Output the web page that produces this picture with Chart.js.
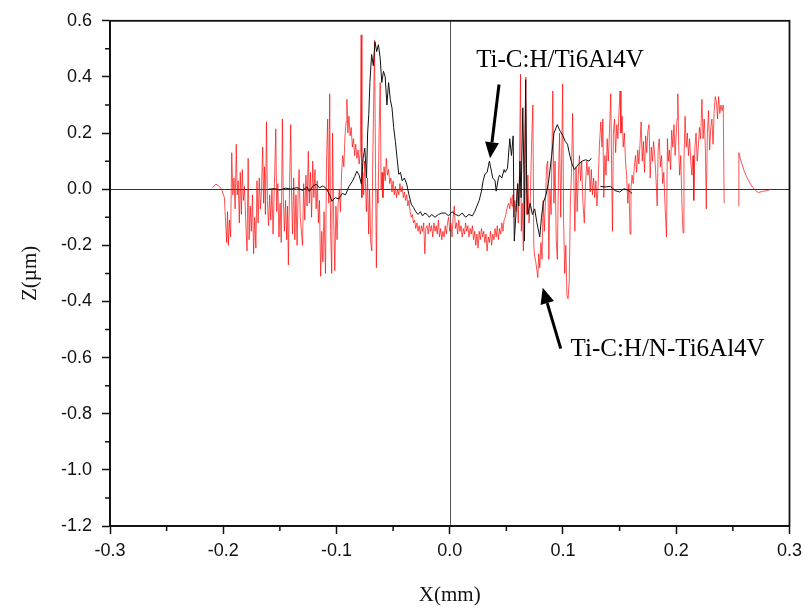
<!DOCTYPE html>
<html>
<head>
<meta charset="utf-8">
<script src="https://cdn.jsdelivr.net/npm/chart.js@4.4.1/dist/chart.umd.min.js"></script>
<style>
  html, body { margin: 0; padding: 0; background: #fff; }
  #wrap { width: 808px; height: 609px; position: relative; }
</style>
</head>
<body>
<div id="wrap"><canvas id="c" width="808" height="609"></canvas></div>
<script>
// ---- Data (X in mm, Z in µm) ----
const xTickValues = [-0.3, -0.2, -0.1, 0.0, 0.1, 0.2, 0.3];
const yTickValues = [-1.2, -1.0, -0.8, -0.6, -0.4, -0.2, 0.0, 0.2, 0.4, 0.6];
const xTitle = 'X(mm)';
const yTitle = 'Z(µm)';
const blackLabel = 'Ti-C:H/Ti6Al4V';
const redLabel = 'Ti-C:H/N-Ti6Al4V';

// Ti-C:H/Ti6Al4V (black)
const blackProfile = [
  [-0.160, 0.000], [-0.155, 0.002], [-0.150, -0.003], [-0.145, 0.004], [-0.140, 0.000],
  [-0.135, 0.006], [-0.130, -0.004], [-0.126, 0.008], [-0.124, -0.008], [-0.121, 0.010],
  [-0.118, 0.018], [-0.115, 0.005], [-0.112, 0.012], [-0.109, 0.002], [-0.106, -0.020],
  [-0.104, -0.043], [-0.101, -0.030], [-0.098, -0.035], [-0.095, -0.015], [-0.092, -0.020],
  [-0.089, 0.010], [-0.086, 0.028], [-0.084, 0.045], [-0.082, 0.064], [-0.080, 0.050],
  [-0.078, 0.018], [-0.0765, 0.110], [-0.075, 0.146], [-0.0735, 0.040], [-0.0725, 0.200],
  [-0.0715, 0.266], [-0.0705, 0.380], [-0.069, 0.480], [-0.0675, 0.440], [-0.066, 0.525],
  [-0.0645, 0.490], [-0.063, 0.515], [-0.0615, 0.470], [-0.060, 0.380], [-0.0585, 0.420],
  [-0.057, 0.400], [-0.0555, 0.300], [-0.054, 0.380], [-0.0525, 0.320], [-0.051, 0.290],
  [-0.0495, 0.220], [-0.048, 0.170], [-0.0465, 0.110], [-0.045, 0.053], [-0.0435, 0.060],
  [-0.042, 0.030], [-0.040, 0.040], [-0.038, 0.018], [-0.036, -0.020], [-0.034, -0.053],
  [-0.032, -0.065], [-0.030, -0.080], [-0.028, -0.090], [-0.026, -0.080], [-0.024, -0.095],
  [-0.022, -0.085], [-0.020, -0.090], [-0.018, -0.100], [-0.016, -0.090], [-0.013, -0.100],
  [-0.010, -0.090], [-0.007, -0.085], [-0.004, -0.085], [-0.001, -0.095], [0.002, -0.080],
  [0.005, -0.090], [0.008, -0.095], [0.011, -0.085], [0.014, -0.100], [0.017, -0.090],
  [0.020, -0.095], [0.022, -0.080], [0.024, -0.060], [0.026, -0.040], [0.028, -0.007],
  [0.0295, 0.030], [0.031, 0.053], [0.033, 0.060], [0.035, 0.100], [0.036, 0.080],
  [0.038, 0.040], [0.040, 0.030], [0.041, -0.007], [0.043, 0.040], [0.044, 0.050],
  [0.046, 0.040], [0.048, 0.070], [0.049, 0.060], [0.051, 0.075], [0.053, 0.180],
  [0.0545, 0.120], [0.056, 0.190], [0.057, -0.185], [0.059, -0.050], [0.060, 0.020],
  [0.061, -0.060], [0.062, 0.100], [0.063, -0.030], [0.0645, 0.290], [0.0655, 0.050],
  [0.066, -0.185], [0.067, 0.390], [0.068, 0.000], [0.069, -0.090], [0.071, -0.050],
  [0.073, -0.090], [0.075, -0.070], [0.077, -0.120], [0.0795, -0.170], [0.081, -0.100],
  [0.0825, -0.050], [0.085, -0.020], [0.087, 0.020], [0.088, 0.050], [0.090, 0.120],
  [0.092, 0.200], [0.094, 0.220], [0.095, 0.230], [0.097, 0.210], [0.100, 0.190],
  [0.102, 0.170], [0.104, 0.160], [0.106, 0.120], [0.108, 0.090], [0.110, 0.070],
  [0.112, 0.080], [0.114, 0.090], [0.117, 0.100], [0.120, 0.105], [0.123, 0.100],
  [0.125, 0.110], [0.129, null],
  [0.133, 0.010], [0.137, 0.008], [0.142, 0.010], [0.146, -0.005], [0.150, -0.010],
  [0.154, 0.002], [0.158, -0.005], [0.161, -0.015]
];

// Ti-C:H/N-Ti6Al4V (red)
const redProfile = [
  [-0.2095, 0.005], [-0.2065, 0.018], [-0.2040, 0.012], [-0.2015, 0.000], [-0.1990, -0.030],
  [-0.1970, -0.190], [-0.1962, -0.080], [-0.1955, -0.200], [-0.1945, -0.110], [-0.1935, -0.170],
  [-0.1925, 0.130], [-0.1915, -0.020], [-0.1905, 0.040], [-0.1895, -0.070], [-0.1885, 0.160],
  [-0.1877, -0.020], [-0.1868, 0.030], [-0.1858, -0.120], [-0.1850, 0.060], [-0.1840, -0.090],
  [-0.1832, 0.070], [-0.1822, -0.040], [-0.1812, 0.010], [-0.1800, -0.130], [-0.1790, -0.220],
  [-0.1780, 0.110], [-0.1772, -0.180], [-0.1762, -0.060], [-0.1752, -0.150], [-0.1742, -0.020],
  [-0.1732, -0.230], [-0.1722, -0.100], [-0.1712, -0.210], [-0.1702, 0.030], [-0.1692, -0.120],
  [-0.1682, 0.040], [-0.1672, -0.070], [-0.1662, 0.000], [-0.1652, 0.150], [-0.1644, -0.050],
  [-0.1636, 0.080], [-0.1628, -0.090], [-0.1618, 0.240], [-0.1610, -0.040], [-0.1600, -0.130],
  [-0.1590, -0.020], [-0.1580, -0.110], [-0.1570, 0.000], [-0.1560, -0.160], [-0.1546, 0.050],
  [-0.1536, 0.215], [-0.1528, -0.080], [-0.1518, 0.020], [-0.1508, -0.170], [-0.1498, -0.050],
  [-0.1488, -0.190], [-0.1478, 0.250], [-0.1470, -0.030], [-0.1460, -0.150], [-0.1450, -0.040],
  [-0.1440, -0.180], [-0.1432, -0.060], [-0.1425, -0.270], [-0.1414, 0.020], [-0.1404, 0.230],
  [-0.1396, -0.040], [-0.1388, -0.160], [-0.1378, 0.040], [-0.1368, -0.180], [-0.1358, -0.020],
  [-0.1348, -0.200], [-0.1338, 0.000], [-0.1330, 0.070], [-0.1320, -0.100], [-0.1300, -0.200],
  [-0.1290, 0.020], [-0.1280, -0.110], [-0.1270, 0.050], [-0.1260, -0.060], [-0.1249, 0.135],
  [-0.1240, -0.050], [-0.1230, 0.060], [-0.1220, -0.100], [-0.1210, 0.100], [-0.1200, -0.030],
  [-0.1190, 0.070], [-0.1180, -0.070], [-0.1170, 0.030], [-0.1160, -0.120], [-0.1150, -0.040],
  [-0.1140, -0.310], [-0.1130, -0.150], [-0.1120, -0.260], [-0.1110, -0.080], [-0.1097, -0.300],
  [-0.1088, 0.100], [-0.1078, 0.250], [-0.1068, -0.050], [-0.1060, 0.340], [-0.1052, -0.150],
  [-0.1042, -0.300], [-0.1035, 0.200], [-0.1025, -0.100], [-0.1015, -0.290], [-0.1005, -0.060],
  [-0.0995, -0.180], [-0.0985, -0.050], [-0.0975, 0.000], [-0.0965, -0.080], [-0.0955, 0.060],
  [-0.0945, 0.120], [-0.0935, 0.080], [-0.0925, 0.190], [-0.0915, 0.240], [-0.0908, 0.320],
  [-0.0900, 0.200], [-0.0890, 0.260], [-0.0880, 0.190], [-0.0870, 0.220], [-0.0860, 0.150],
  [-0.0850, 0.180], [-0.0840, 0.120], [-0.0830, 0.160], [-0.0820, 0.110], [-0.0810, 0.140],
  [-0.0800, 0.090], [-0.0790, 0.130], [-0.0782, 0.550], [-0.0776, -0.030], [-0.0768, 0.060],
  [-0.0760, -0.020], [-0.0752, 0.100], [-0.0744, 0.020], [-0.0736, -0.080], [-0.0726, 0.040],
  [-0.0716, -0.160], [-0.0708, 0.000], [-0.0698, -0.190], [-0.0688, -0.220], [-0.0680, 0.100],
  [-0.0672, 0.300], [-0.0664, 0.530], [-0.0656, 0.100], [-0.0648, -0.280], [-0.0640, 0.000],
  [-0.0632, -0.050], [-0.0624, 0.200], [-0.0614, 0.380], [-0.0606, 0.000], [-0.0598, 0.060],
  [-0.0590, -0.030], [-0.0580, 0.080], [-0.0570, 0.030], [-0.0560, 0.110], [-0.0550, 0.050],
  [-0.0540, 0.070], [-0.0530, 0.020], [-0.0520, 0.040], [-0.0510, -0.010], [-0.0500, 0.030],
  [-0.0490, -0.020], [-0.0480, 0.010], [-0.0470, -0.030], [-0.0460, 0.000], [-0.0450, -0.020],
  [-0.0440, 0.020], [-0.0430, -0.010], [-0.0420, 0.010], [-0.0410, -0.030], [-0.0400, -0.010],
  [-0.0390, -0.040], [-0.0380, -0.020], [-0.0370, -0.060], [-0.0360, -0.040], [-0.0350, -0.080],
  [-0.0340, -0.100], [-0.0330, -0.090], [-0.0320, -0.120], [-0.0310, -0.110], [-0.0300, -0.140],
  [-0.0290, -0.120], [-0.0280, -0.150], [-0.0270, -0.130], [-0.0260, -0.160], [-0.0250, -0.130],
  [-0.0240, -0.150], [-0.0230, -0.120], [-0.0220, -0.230], [-0.0212, -0.140], [-0.0200, -0.130],
  [-0.0190, -0.160], [-0.0180, -0.120], [-0.0170, -0.150], [-0.0160, -0.130], [-0.0150, -0.170],
  [-0.0140, -0.120], [-0.0130, -0.150], [-0.0120, -0.130], [-0.0110, -0.160], [-0.0100, -0.110],
  [-0.0090, -0.170], [-0.0080, -0.140], [-0.0070, -0.180], [-0.0060, -0.150], [-0.0050, -0.170],
  [-0.0040, -0.130], [-0.0030, -0.160], [-0.0020, -0.120], [-0.0010, -0.100], [0.0000, -0.150],
  [0.0010, -0.120], [0.0020, -0.170], [0.0030, -0.100], [0.0040, -0.060], [0.0050, -0.140],
  [0.0060, -0.120], [0.0070, -0.160], [0.0080, -0.110], [0.0090, -0.150], [0.0100, -0.130],
  [0.0110, -0.170], [0.0120, -0.140], [0.0130, -0.160], [0.0140, -0.120], [0.0150, -0.150],
  [0.0160, -0.130], [0.0170, -0.170], [0.0180, -0.140], [0.0190, -0.160], [0.0200, -0.130],
  [0.0210, -0.180], [0.0220, -0.150], [0.0230, -0.200], [0.0240, -0.160], [0.0250, -0.210],
  [0.0260, -0.150], [0.0270, -0.180], [0.0280, -0.140], [0.0290, -0.170], [0.0300, -0.150],
  [0.0310, -0.190], [0.0320, -0.160], [0.0330, -0.220], [0.0340, -0.170], [0.0350, -0.190],
  [0.0360, -0.150], [0.0370, -0.200], [0.0380, -0.160], [0.0390, -0.180], [0.0400, -0.140],
  [0.0410, -0.170], [0.0420, -0.130], [0.0430, -0.180], [0.0440, -0.140], [0.0450, -0.160],
  [0.0460, -0.120], [0.0470, -0.150], [0.0480, -0.110], [0.0490, -0.100], [0.0500, -0.080],
  [0.0510, -0.060], [0.0520, -0.050], [0.0530, -0.070], [0.0540, -0.030], [0.0550, -0.060],
  [0.0558, -0.020], [0.0565, -0.100], [0.0575, -0.040], [0.0585, -0.080], [0.0595, 0.000],
  [0.0605, -0.120], [0.0615, 0.050], [0.0625, 0.410], [0.0632, -0.150], [0.0640, -0.050],
  [0.0650, -0.220], [0.0660, 0.100], [0.0672, 0.400], [0.0680, -0.090], [0.0690, 0.050],
  [0.0700, -0.120], [0.0710, -0.060], [0.0722, 0.150], [0.0734, 0.300], [0.0742, -0.200],
  [0.0750, -0.240], [0.0760, -0.260], [0.0770, -0.290], [0.0778, -0.315], [0.0786, -0.230],
  [0.0795, -0.280], [0.0805, -0.190], [0.0815, -0.250], [0.0825, -0.040], [0.0835, -0.150],
  [0.0845, -0.040], [0.0855, 0.080], [0.0865, 0.100], [0.0875, -0.250], [0.0885, 0.000],
  [0.0895, -0.090], [0.0910, 0.350], [0.0920, -0.050], [0.0930, 0.100], [0.0940, -0.180],
  [0.0950, -0.250], [0.0960, 0.050], [0.0970, 0.200], [0.0980, -0.100], [0.0990, 0.150],
  [0.0997, 0.375], [0.1005, -0.100], [0.1015, -0.300], [0.1025, -0.200], [0.1035, -0.380],
  [0.1045, -0.390], [0.1055, -0.330], [0.1065, -0.050], [0.1075, 0.060], [0.1085, 0.270],
  [0.1095, 0.050], [0.1105, -0.150], [0.1115, 0.080], [0.1125, -0.080], [0.1135, 0.050],
  [0.1145, 0.120], [0.1155, 0.030], [0.1165, 0.100], [0.1175, -0.040], [0.1188, -0.120],
  [0.1198, 0.010], [0.1210, 0.100], [0.1220, 0.050], [0.1230, 0.080], [0.1240, -0.010],
  [0.1250, 0.070], [0.1260, -0.020], [0.1270, 0.040], [0.1280, -0.030], [0.1290, 0.030],
  [0.1300, -0.060], [0.1310, 0.010], [0.1322, 0.160], [0.1334, 0.240], [0.1344, 0.150],
  [0.1352, 0.250], [0.1360, -0.030], [0.1370, 0.120], [0.1380, 0.050], [0.1390, 0.180],
  [0.1400, 0.100], [0.1410, 0.200], [0.1422, 0.340], [0.1430, 0.050], [0.1437, -0.150],
  [0.1445, 0.200], [0.1455, 0.250], [0.1465, 0.130], [0.1475, 0.230], [0.1485, 0.180],
  [0.1495, 0.280], [0.1504, 0.350], [0.1512, 0.200], [0.1522, 0.260], [0.1532, 0.150],
  [0.1542, 0.200], [0.1552, 0.100], [0.1562, 0.050], [0.1572, -0.050], [0.1582, 0.020],
  [0.1592, -0.160], [0.1600, 0.000], [0.1610, 0.050], [0.1620, 0.020], [0.1630, 0.080],
  [0.1640, 0.120], [0.1650, 0.060], [0.1660, 0.140], [0.1670, 0.090], [0.1680, 0.160],
  [0.1690, 0.240], [0.1700, 0.100], [0.1710, 0.170], [0.1720, 0.060], [0.1730, 0.190],
  [0.1740, 0.130], [0.1750, 0.210], [0.1760, 0.230], [0.1770, 0.040], [0.1780, 0.150],
  [0.1790, 0.100], [0.1800, 0.170], [0.1810, 0.120], [0.1820, 0.050], [0.1832, -0.060],
  [0.1840, 0.140], [0.1850, 0.180], [0.1860, 0.080], [0.1870, 0.120], [0.1880, 0.020],
  [0.1890, 0.060], [0.1900, -0.050], [0.1914, -0.170], [0.1922, 0.180], [0.1930, 0.100],
  [0.1940, 0.140], [0.1950, 0.070], [0.1960, 0.210], [0.1970, 0.150], [0.1980, 0.230],
  [0.1990, 0.120], [0.2000, 0.200], [0.2007, 0.250], [0.2014, 0.340], [0.2022, 0.150],
  [0.2030, 0.050], [0.2040, 0.120], [0.2050, -0.050], [0.2060, -0.155], [0.2068, 0.100],
  [0.2078, 0.260], [0.2088, 0.150], [0.2098, 0.200], [0.2108, 0.120], [0.2118, 0.180],
  [0.2128, 0.100], [0.2138, 0.050], [0.2148, 0.120], [0.2155, -0.040], [0.2165, 0.150],
  [0.2175, 0.200], [0.2185, 0.100], [0.2195, 0.150], [0.2205, 0.220], [0.2215, 0.180],
  [0.2227, 0.320], [0.2237, 0.180], [0.2247, 0.250], [0.2257, 0.150], [0.2265, -0.070],
  [0.2275, 0.200], [0.2285, 0.280], [0.2295, 0.140], [0.2305, 0.220], [0.2315, 0.250],
  [0.2325, 0.160], [0.2335, 0.280], [0.2345, 0.330], [0.2355, 0.310], [0.2365, 0.250],
  [0.2374, 0.330], [0.2385, 0.270], [0.2395, 0.300], [0.2405, 0.280], [0.2415, 0.300],
  [0.2423, -0.050], [0.2490, null],
  [0.2550, -0.060], [0.2553, 0.130], [0.2565, 0.110], [0.2580, 0.090], [0.2600, 0.065],
  [0.2620, 0.045], [0.2640, 0.030], [0.2660, 0.015], [0.2680, 0.005], [0.2700, -0.005],
  [0.2725, -0.012], [0.2760, -0.008], [0.2800, -0.005], [0.2842, 0.000]
];

// annotation anchors (data units)
const blackLabelAt = [0.0233, 0.437];
const blackArrow = [[0.0435, 0.373], [0.0356, 0.110]];
const redLabelAt = [0.1067, -0.593];
const redArrow = [[0.098, -0.568], [0.0821, -0.351]];

// ---- Chart ----
const toPts = arr => arr.map(p => ({ x: p[0], y: p[1] }));
const AXIS = '#111';

const framePlugin = {
  id: 'frame',
  beforeDatasetsDraw(chart) {
    const { ctx, chartArea: a, scales: { x, y } } = chart;
    ctx.save();
    ctx.lineWidth = 1;
    ctx.strokeStyle = '#333';
    const y0 = Math.round(y.getPixelForValue(0)) + 0.5;
    ctx.beginPath(); ctx.moveTo(a.left, y0); ctx.lineTo(a.right, y0); ctx.stroke();
    ctx.strokeStyle = '#555';
    const x0 = Math.round(x.getPixelForValue(0)) + 0.5;
    ctx.beginPath(); ctx.moveTo(x0, a.top); ctx.lineTo(x0, a.bottom); ctx.stroke();
    ctx.restore();
  },
  afterDraw(chart) {
    const { ctx, chartArea: a, scales: { x, y } } = chart;
    ctx.save();
    // box
    ctx.strokeStyle = AXIS;
    ctx.lineWidth = 1.8;
    ctx.strokeRect(a.left, a.top, a.right - a.left, a.bottom - a.top);
    // minor ticks
    ctx.lineWidth = 1.5;
    ctx.beginPath();
    for (let i = 0; i < xTickValues.length - 1; i++) {
      const px = x.getPixelForValue((xTickValues[i] + xTickValues[i + 1]) / 2);
      ctx.moveTo(px, a.bottom); ctx.lineTo(px, a.bottom + 5);
    }
    for (let i = 0; i < yTickValues.length - 1; i++) {
      const py = y.getPixelForValue((yTickValues[i] + yTickValues[i + 1]) / 2);
      ctx.moveTo(a.left, py); ctx.lineTo(a.left - 5, py);
    }
    ctx.stroke();
    // axis titles
    ctx.fillStyle = '#111';
    ctx.font = '21px "Liberation Serif", "Times New Roman", serif';
    ctx.textAlign = 'center';
    ctx.textBaseline = 'middle';
    ctx.fillText(xTitle, (a.left + a.right) / 2, 595);
    ctx.save();
    ctx.translate(30, (a.top + a.bottom) / 2);
    ctx.rotate(-Math.PI / 2);
    ctx.fillText(yTitle, 0, 0);
    ctx.restore();
    // annotations
    ctx.fillStyle = '#000';
    ctx.font = '25px "Liberation Serif", "Times New Roman", serif';
    ctx.textAlign = 'left';
    ctx.textBaseline = 'alphabetic';
    ctx.fillText(blackLabel, x.getPixelForValue(blackLabelAt[0]), y.getPixelForValue(blackLabelAt[1]));
    ctx.fillText(redLabel, x.getPixelForValue(redLabelAt[0]), y.getPixelForValue(redLabelAt[1]));
    const arrow = (seg) => {
      const x1 = x.getPixelForValue(seg[0][0]), y1 = y.getPixelForValue(seg[0][1]);
      const x2 = x.getPixelForValue(seg[1][0]), y2 = y.getPixelForValue(seg[1][1]);
      const ang = Math.atan2(y2 - y1, x2 - x1);
      const hl = 16, hw = 7;
      const bx = x2 - hl * Math.cos(ang), by = y2 - hl * Math.sin(ang);
      ctx.strokeStyle = '#000';
      ctx.lineWidth = 3;
      ctx.beginPath(); ctx.moveTo(x1, y1); ctx.lineTo(bx, by); ctx.stroke();
      ctx.fillStyle = '#000';
      ctx.beginPath();
      ctx.moveTo(x2, y2);
      ctx.lineTo(bx + hw * Math.sin(ang), by - hw * Math.cos(ang));
      ctx.lineTo(bx - hw * Math.sin(ang), by + hw * Math.cos(ang));
      ctx.closePath(); ctx.fill();
    };
    arrow(blackArrow);
    arrow(redArrow);
    ctx.restore();
  }
};

new Chart(document.getElementById('c'), {
  type: 'scatter',
  data: {
    datasets: [
      {
        label: blackLabel,
        data: toPts(blackProfile),
        showLine: true,
        borderColor: '#111',
        borderWidth: 1,
        pointRadius: 0,
        spanGaps: false
      },
      {
        label: redLabel,
        data: toPts(redProfile),
        showLine: true,
        borderColor: 'rgba(255,0,0,0.8)',
        borderWidth: 0.85,
        pointRadius: 0,
        spanGaps: false
      }
    ]
  },
  options: {
    responsive: false,
    animation: false,
    devicePixelRatio: 1,
    layout: { padding: { left: 0, right: 15, top: 19, bottom: 0 } },
    plugins: { legend: { display: false }, tooltip: { enabled: false } },
    scales: {
      x: {
        type: 'linear',
        min: -0.3, max: 0.3,
        afterBuildTicks: s => { s.ticks = xTickValues.map(v => ({ value: v })); },
        afterFit: s => { s.height = 83; },
        ticks: {
          callback: v => v.toFixed(1),
          color: '#111',
          font: { family: '"Liberation Sans", Arial, sans-serif', size: 18 },
          padding: 6,
          maxRotation: 0
        },
        grid: { display: true, drawOnChartArea: false, drawTicks: true, tickLength: 8, tickColor: AXIS, tickWidth: 1.5 },
        border: { display: true, color: AXIS, width: 1.8 }
      },
      y: {
        type: 'linear',
        min: -1.2, max: 0.6,
        afterBuildTicks: s => { s.ticks = yTickValues.map(v => ({ value: v })); },
        afterFit: s => { s.width = 110; },
        ticks: {
          callback: v => v.toFixed(1),
          color: '#111',
          font: { family: '"Liberation Sans", Arial, sans-serif', size: 18 },
          padding: 10
        },
        grid: { display: true, drawOnChartArea: false, drawTicks: true, tickLength: 8, tickColor: AXIS, tickWidth: 1.5 },
        border: { display: true, color: AXIS, width: 1.8 }
      }
    }
  },
  plugins: [framePlugin]
});
</script>
</body>
</html>
